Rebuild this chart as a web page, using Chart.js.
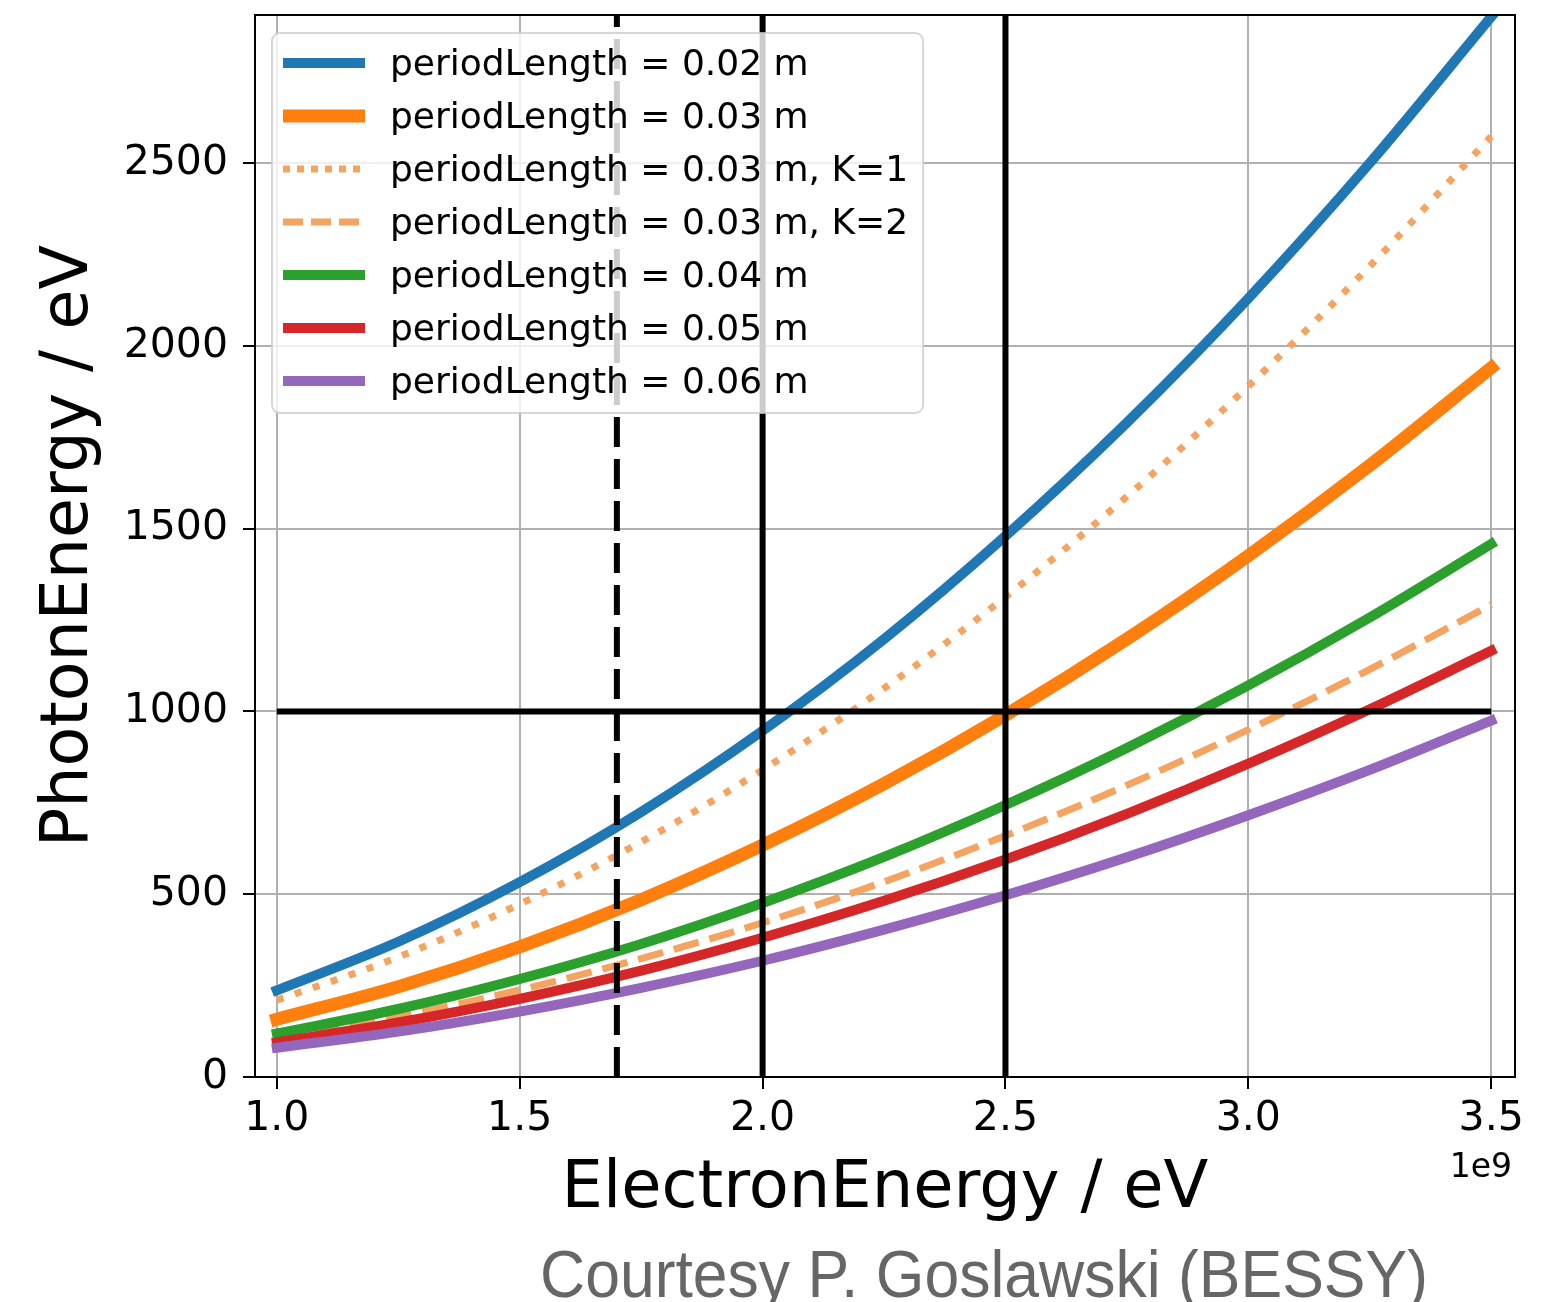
<!doctype html>
<html lang="en">

<head>
    <meta charset="utf-8">
    <title>PhotonEnergy vs ElectronEnergy</title>
    <script src="https://cdn.jsdelivr.net/npm/chart.js@4.4.1/dist/chart.umd.min.js"></script>
    <style>
        body { margin: 0; background: #fff; }
        canvas { display: block; }
    </style>
</head>

<body>

    <canvas id="chart" width="1558" height="1302"></canvas>

    <script>
        // electron energy in eV (axis shows it in units of 1e9)
        var electronEnergy = [1.0e9, 1.25e9, 1.5e9, 1.75e9, 2.0e9, 2.25e9, 2.5e9, 2.75e9, 3.0e9, 3.25e9, 3.5e9];

        // photon energy in eV
        var pl002 = [237, 370, 533, 725, 947, 1198, 1480, 1790, 2130, 2500, 2900];
        var pl003 = [158, 247, 356, 485, 634, 802, 990, 1198, 1426, 1673, 1940];
        var pl003K1 = [210, 328, 473, 643, 840, 1063, 1313, 1588, 1890, 2218, 2573];
        var pl003K2 = [105, 165, 238, 324, 422, 534, 660, 798, 950, 1115, 1292];
        var pl004 = [119, 186, 268, 364, 476, 602, 744, 900, 1071, 1257, 1458];
        var pl005 = [95, 149, 214, 291, 381, 482, 595, 720, 857, 1006, 1166];
        var pl006 = [80, 124, 179, 244, 318, 403, 497, 601, 716, 840, 975];

        var labels = ['periodLength = 0.02 m', 'periodLength = 0.03 m', 'periodLength = 0.03 m, K=1',
            'periodLength = 0.03 m, K=2', 'periodLength = 0.04 m', 'periodLength = 0.05 m', 'periodLength = 0.06 m'];

        var xTicks = [1.0e9, 1.5e9, 2.0e9, 2.5e9, 3.0e9, 3.5e9];
        var yTicks = [0, 500, 1000, 1500, 2000, 2500];
        var xMin = 0.955e9, xMax = 3.549e9;
        var yMin = 0, yMax = 2905;

        // black reference lines
        var vLines = [1.7e9, 2.0e9, 2.5e9];
        var hLine = { y: 1000, from: 1.0e9, to: 3.5e9 };

        function pts(ys) {
            return ys.map(function (y, i) { return { x: electronEnergy[i], y: y }; });
        }

        var series = [
            { data: pl002, color: '#1f77b4', width: 10, dash: [], legendDash: [] },
            { data: pl003, color: '#ff7f0e', width: 13, dash: [], legendDash: [] },
            { data: pl003K1, color: '#f4a460', width: 7, dash: [7, 12], legendDash: [7, 7] },
            { data: pl003K2, color: '#f4a460', width: 7, dash: [26, 11], legendDash: [20, 8] },
            { data: pl004, color: '#2ca02c', width: 10, dash: [], legendDash: [] },
            { data: pl005, color: '#d62728', width: 10, dash: [], legendDash: [] },
            { data: pl006, color: '#9467bd', width: 10, dash: [], legendDash: [] }
        ];

        var datasets = series.map(function (s, i) {
            return {
                label: labels[i],
                data: pts(s.data),
                borderColor: s.color,
                borderWidth: s.width,
                borderDash: s.dash,
                borderCapStyle: s.dash.length ? 'butt' : 'square',
                cubicInterpolationMode: 'monotone',
                pointRadius: 0,
                fill: false,
                order: 20 - i
            };
        });

        vLines.forEach(function (x, i) {
            datasets.push({
                label: 'v' + i,
                data: [{ x: x, y: yMin }, { x: x, y: yMax }],
                borderColor: '#000',
                borderWidth: 6,
                borderDash: i === 0 ? [30, 12] : [],
                pointRadius: 0,
                order: 1
            });
        });
        datasets.push({
            label: 'h',
            data: [{ x: hLine.from, y: hLine.y }, { x: hLine.to, y: hLine.y }],
            borderColor: '#000',
            borderWidth: 6,
            pointRadius: 0,
            order: 1
        });

        // top + right spines, legend box and extra texts
        var extras = {
            id: 'extras',
            afterDatasetsDraw: function (chart) {
                var a = chart.chartArea, ctx = chart.ctx;
                ctx.save();
                ctx.strokeStyle = '#000';
                ctx.lineWidth = 2;
                ctx.strokeRect(a.left, a.top, a.right - a.left, a.bottom - a.top);
                ctx.restore();
            },
            afterDraw: function (chart) {
                var a = chart.chartArea, ctx = chart.ctx;
                ctx.save();

                // legend
                ctx.font = '36px "DejaVu Sans"';
                var maxW = 0;
                labels.forEach(function (l) { maxW = Math.max(maxW, ctx.measureText(l).width); });
                var bx = a.left + 17, by = a.top + 18;
                var bw = 118 + maxW + 15, bh = labels.length * 53 + 9;
                ctx.beginPath();
                ctx.roundRect(bx, by, bw, bh, 8);
                ctx.fillStyle = 'rgba(255,255,255,0.8)';
                ctx.fill();
                ctx.strokeStyle = 'rgba(204,204,204,0.8)';
                ctx.lineWidth = 2;
                ctx.stroke();
                series.forEach(function (s, i) {
                    var cy = by + 30 + i * 53;
                    ctx.beginPath();
                    ctx.strokeStyle = s.color;
                    ctx.lineWidth = s.width;
                    ctx.setLineDash(s.legendDash);
                    ctx.lineCap = 'butt';
                    ctx.moveTo(bx + 11, cy);
                    ctx.lineTo(bx + 93, cy);
                    ctx.stroke();
                    ctx.setLineDash([]);
                    ctx.fillStyle = '#000';
                    ctx.textAlign = 'left';
                    ctx.textBaseline = 'alphabetic';
                    ctx.fillText(labels[i], bx + 118, cy + 12);
                });

                // offset text
                ctx.font = '33px "DejaVu Sans"';
                ctx.textAlign = 'right';
                ctx.textBaseline = 'middle';
                ctx.fillStyle = '#000';
                ctx.fillText('1e9', a.right - 3, 1168);

                // courtesy line
                var txt = 'Courtesy P. Goslawski (BESSY)';
                ctx.font = '67px "Liberation Sans Narrow", "Liberation Sans", Arial, sans-serif';
                var w = ctx.measureText(txt).width;
                ctx.translate(984, 1297);
                ctx.scale(888 / w, 1);
                ctx.textAlign = 'center';
                ctx.textBaseline = 'alphabetic';
                ctx.fillStyle = '#666666';
                ctx.fillText(txt, 0, 0);
                ctx.restore();
            }
        };

        Chart.defaults.font.family = '"DejaVu Sans", sans-serif';
        Chart.defaults.color = '#000';

        new Chart(document.getElementById('chart').getContext('2d'), {
            type: 'line',
            data: { datasets: datasets },
            options: {
                responsive: false,
                devicePixelRatio: 1,
                animation: false,
                layout: { padding: { top: 15, right: 43, left: 0, bottom: 0 } },
                plugins: { legend: { display: false }, tooltip: { enabled: false } },
                scales: {
                    x: {
                        type: 'linear',
                        position: 'bottom',
                        min: xMin,
                        max: xMax,
                        afterBuildTicks: function (axis) {
                            axis.ticks = xTicks.map(function (v) { return { value: v }; });
                        },
                        afterFit: function (axis) {
                            axis.height = 225;
                            axis.paddingLeft = 0;
                            axis.paddingRight = 0;
                        },
                        ticks: {
                            font: { size: 41 },
                            padding: 6,
                            maxRotation: 0,
                            callback: function (v) { return (v / 1e9).toFixed(1); }
                        },
                        grid: { color: '#b0b0b0', lineWidth: 2, tickColor: '#000', tickLength: 12, tickWidth: 2 },
                        border: { color: '#000', width: 2 },
                        title: {
                            display: true,
                            text: 'ElectronEnergy / eV',
                            font: { size: 65.5 },
                            padding: { top: 0, bottom: 73 }
                        }
                    },
                    y: {
                        type: 'linear',
                        min: yMin,
                        max: yMax,
                        afterBuildTicks: function (axis) {
                            axis.ticks = yTicks.map(function (v) { return { value: v }; });
                        },
                        afterFit: function (axis) {
                            axis.width = 255;
                            axis.paddingTop = 0;
                            axis.paddingBottom = 0;
                        },
                        ticks: {
                            font: { size: 41 },
                            padding: 15,
                            callback: function (v) { return String(v); }
                        },
                        grid: { color: '#b0b0b0', lineWidth: 2, tickColor: '#000', tickLength: 12, tickWidth: 2 },
                        border: { color: '#000', width: 2 },
                        title: {
                            display: true,
                            text: 'PhotonEnergy / eV',
                            font: { size: 65 },
                            padding: { top: 31, bottom: 0 }
                        }
                    }
                }
            },
            plugins: [extras]
        });
    </script>

</body>

</html>
